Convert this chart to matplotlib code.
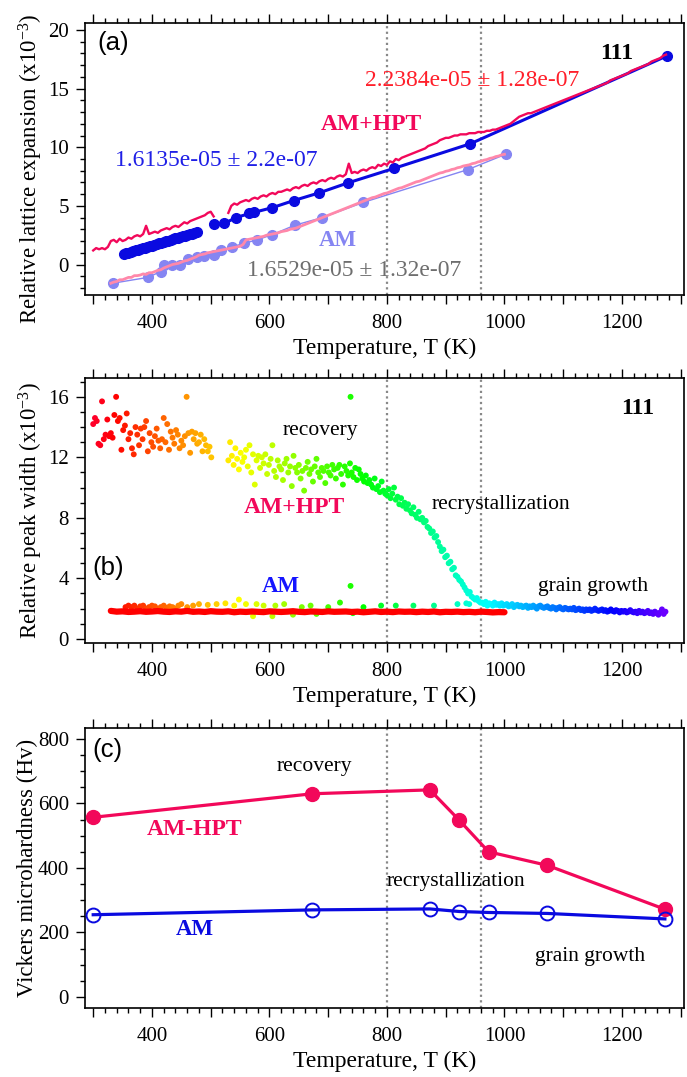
import numpy as np
import matplotlib
matplotlib.use("Agg")
import matplotlib.pyplot as plt
from matplotlib.ticker import MultipleLocator, FuncFormatter
from matplotlib import colors

plt.rcParams['font.family'] = ['Liberation Serif', 'DejaVu Serif']
plt.rcParams['mathtext.fontset'] = 'custom'
plt.rcParams['mathtext.rm'] = 'Liberation Serif'
plt.rcParams['mathtext.it'] = 'Liberation Serif:italic'
plt.rcParams['axes.unicode_minus'] = False

# ---------------- (a) relative lattice expansion (x1e-3) ----------------
# AM+HPT measured, sampled every 5 K (two pieces, gap near 510-525 K)
hpt_a1_T0 = 300
hpt_a1 = [1.2, 1.4, 1.3, 1.4, 1.3, 1.5, 2.0, 2.1, 1.9, 2.2,
          2.0, 2.1, 2.3, 2.2, 2.4, 2.5, 2.4, 2.6, 3.3, 2.6,
          2.7, 2.8, 2.7, 2.9, 3.0, 3.1, 3.0, 3.2, 3.3, 3.2,
          3.4, 3.6, 3.5, 3.7, 3.8, 3.9, 4.0, 4.1, 4.2, 4.4,
          4.5, 4.1]
hpt_a2_T0 = 530
hpt_a2 = [4.4, 5.0, 5.2, 5.1, 5.3, 5.4, 5.5, 5.4, 5.6, 5.7,
          5.6, 5.8, 5.9, 5.8, 6.0, 6.1, 6.0, 6.2, 6.2, 6.3,
          6.4, 6.3, 6.5, 6.6, 6.5, 6.7, 6.8, 6.7, 6.9, 7.0,
          6.9, 7.1, 7.2, 7.1, 7.3, 7.4, 7.3, 7.5, 7.6, 7.5,
          7.7, 8.6, 7.8, 7.9, 7.8, 8.0, 8.1, 8.0, 8.2, 8.3,
          8.2, 8.5, 8.4, 8.6, 8.5, 8.8, 8.7, 9.0, 8.9, 9.1,
          9.2, 9.3, 9.4, 9.5, 9.6, 9.7, 9.8, 9.9, 10.1, 10.2,
          10.3, 10.4, 10.6, 10.7, 10.8, 10.8, 10.9, 11.0, 11.0, 11.1,
          11.1, 11.1, 11.2, 11.2, 11.2, 11.3, 11.3, 11.3, 11.4, 11.4,
          11.5, 11.5, 11.6, 11.7, 11.8, 11.9, 12.0, 12.2, 12.4, 12.6,
          12.7, 12.8, 12.9, 12.9, 13.0, 13.1, 13.2, 13.3, 13.4, 13.5,
          13.6, 13.7, 13.8, 13.9, 14.0, 14.1, 14.2, 14.3, 14.4, 14.5,
          14.6, 14.7, 14.8, 14.9, 15.0, 15.1, 15.2, 15.3, 15.4, 15.5,
          15.7, 15.8, 15.9, 16.0, 16.1, 16.2, 16.3, 16.5, 16.6, 16.7,
          16.8, 16.9, 17.0, 17.1, 17.3, 17.4, 17.5, 17.6, 17.8, 17.9]

# AM measured, every 5 K from 330 K
am_a_T0 = 330
am_a = [-1.6, -1.5, -1.45, -1.3, -1.3, -1.2, -1.1, -1.1, -0.95, -0.95,
        -0.9, -0.8, -0.85, -0.7, -0.7, -0.6, -0.5, -0.45, -0.3, -0.2,
        -0.1, 0.0, 0.05, 0.1, 0.2, 0.3, 0.35, 0.45, 0.55, 0.65,
        0.8, 0.85, 0.9, 1.0, 1.05, 1.1, 1.15, 1.2, 1.25, 1.3,
        1.35, 1.4, 1.45, 1.5, 1.55, 1.7, 2.1, 2.15, 2.2, 2.25,
        2.3, 2.35, 2.4, 2.5, 2.55, 2.6, 2.65, 2.7, 2.8, 2.85,
        2.9, 3.0, 3.05, 3.1, 3.2, 3.3, 3.4, 3.5, 3.6, 3.7,
        3.8, 3.9, 4.0, 4.1, 4.2, 4.3, 4.4, 4.5, 4.6, 4.7,
        4.8, 4.9, 5.0, 5.1, 5.2, 5.3, 5.4, 5.5, 5.6, 5.7,
        5.75, 5.85, 5.95, 6.05, 6.1, 6.2, 6.3, 6.4, 6.5, 6.55,
        6.65, 6.75, 6.85, 6.95, 7.05, 7.1, 7.2, 7.3, 7.4, 7.5,
        7.6, 7.7, 7.8, 7.85, 7.95, 8.0, 8.1, 8.15, 8.25, 8.3,
        8.4, 8.45, 8.5, 8.6, 8.65, 8.75, 8.8, 8.9, 8.95, 9.05,
        9.1, 9.2, 9.25, 9.35, 9.4]

# AM+HPT fitted points (dark blue)
fit_hpt_T1 = [352, 356, 360, 364, 368, 372, 376, 380, 384, 388, 392, 396, 400, 404, 408, 412,
              416, 420, 424, 428, 432, 436, 440, 444, 448, 452, 456, 460, 464, 468, 472, 476]
fit_hpt_v1 = [0.90, 0.95, 1.02, 1.08, 1.12, 1.20, 1.26, 1.30, 1.38, 1.43, 1.50, 1.56, 1.62, 1.68, 1.73, 1.80,
              1.86, 1.92, 1.98, 2.04, 2.10, 2.15, 2.22, 2.28, 2.33, 2.40, 2.46, 2.52, 2.58, 2.64, 2.70, 2.78]
fit_hpt_T2 = [505, 523, 543, 566, 574, 605, 641, 684, 733, 812, 942, 1277]
fit_hpt_v2 = [3.45, 3.5, 4.0, 4.35, 4.45, 4.85, 5.45, 6.1, 6.95, 8.2, 10.3, 17.8]

# AM fitted points (light blue)
fit_am_T = [333, 393, 415, 420, 434, 448, 462, 477, 489, 505, 518, 536, 556, 579, 605, 643, 690, 760, 938, 1002]
fit_am_v = [-1.6, -1.1, -0.6, -0.05, -0.05, 0.0, 0.5, 0.6, 0.7, 0.85, 1.2, 1.5, 1.8, 2.1, 2.55, 3.35, 4.0, 5.3, 8.1, 9.4]

# ---------------- (b) relative peak width (x1e-3) ----------------
pw_s1_T0 = 300   # every 3 K
pw_s1 = [14.2, 14.6, 14.4, 12.9, 12.8, 15.7, 13.2, 13.5, 14.5, 13.4,
         13.6, 13.3, 14.8, 16.0, 14.4, 14.6, 12.5, 13.8, 14.1, 14.9,
         13.2, 13.6, 12.6, 12.2, 14.0, 13.5, 12.8, 13.9, 13.2, 14.0,
         14.4, 12.4, 13.6, 13.0, 12.7, 13.4, 13.9, 13.1, 12.6, 13.2,
         14.6, 13.0, 14.2, 12.5, 13.7, 13.3, 12.9, 13.8, 13.5, 12.6,
         13.1, 12.8, 13.4, 16.0, 13.6, 12.3, 13.7, 13.2, 13.6, 12.9,
         13.0, 13.5, 12.4, 13.2, 12.8, 12.4, 12.7, 12.0]
pw_s2_T0 = 530   # every 3 K
pw_s2 = [11.8, 13.0, 12.1, 11.5, 12.6, 11.9, 11.2, 12.3, 11.7, 12.0,
         12.5, 11.4, 12.8, 11.0, 12.2, 10.2, 11.8, 12.1, 11.3, 12.0,
         11.6, 12.2, 10.9, 11.5, 11.9, 12.8, 11.1, 10.7, 11.8, 11.4,
         11.2, 10.5, 11.6, 11.9, 11.0, 11.4, 10.1, 12.1, 11.3, 11.0,
         11.5, 10.6, 11.1, 9.8, 11.3, 11.7, 10.9, 11.2, 10.4, 11.4,
         11.9, 11.0, 10.7, 11.3, 11.1, 10.3, 11.4, 11.0, 10.8, 11.5,
         11.2, 10.6, 11.3, 11.5, 10.9, 10.2, 11.4, 11.1, 10.8, 11.6,
         11.0, 10.7, 11.3, 10.5, 11.2, 10.9, 10.6, 10.4, 10.8, 10.3,
         10.5, 10.2, 10.0, 10.6, 9.9, 10.1, 9.7, 10.4, 9.8, 9.6,
         9.5, 9.9, 9.3, 9.6, 10.0, 9.2, 9.4, 8.9, 9.3, 8.8,
         9.0, 8.6, 8.9, 8.5, 8.3, 8.7, 8.2, 8.0, 8.4, 7.9,
         8.0, 7.7, 7.8, 7.4, 7.3, 7.0, 7.1, 6.7, 6.8, 6.4,
         6.1, 5.8, 5.9, 5.4, 5.5, 5.0, 5.1, 4.6, 4.7, 4.2,
         4.1, 3.9, 3.8, 3.6, 3.4, 3.2, 3.0, 3.1, 2.8, 2.7,
         2.6, 2.7, 2.5, 2.4]
pw_s3_T0 = 962   # every 3 K
pw_s3 = [2.4, 2.3, 2.45, 2.2, 2.35, 2.3, 2.2, 2.4, 2.25, 2.3,
         2.2, 2.35, 2.2, 2.25, 2.3, 2.15, 2.2, 2.3, 2.1, 2.2,
         2.25, 2.15, 2.2, 2.1, 2.15, 2.2, 2.05, 2.15, 2.1, 2.2,
         2.1, 2.0, 2.15, 2.2, 2.1, 2.05, 2.1, 2.15, 2.05, 2.0,
         2.1, 2.05, 1.95, 2.05, 2.1, 2.0, 1.95, 2.05, 2.0, 1.95,
         2.0, 1.95, 2.05, 1.9, 1.95, 2.0, 1.9, 1.95, 1.85, 1.95,
         1.9, 1.95, 1.85, 1.9, 2.0, 1.9, 1.85, 1.9, 1.95, 1.85,
         1.9, 1.8, 1.85, 1.95, 1.85, 1.8, 1.9, 1.85, 1.75, 1.85,
         1.8, 1.85, 1.75, 1.8, 1.9, 1.8, 1.75, 1.8, 1.7, 1.85,
         1.75, 1.8, 1.7, 1.75, 1.85, 1.7, 1.75, 1.65, 1.8, 1.7,
         1.6, 1.75, 1.95, 1.65, 1.8]

# AM (b): coloured scattered points and the dense red band (every 10 K)
am_pts_T = [355, 360, 365, 370, 375, 380, 385, 390, 395, 400, 405, 410, 415, 420, 425, 430, 435, 440,
            445, 450, 460, 470, 480, 495, 510, 525, 540, 548, 560, 572, 578, 590, 605, 610, 625, 640,
            655, 670, 680, 700, 720, 738, 738, 742, 760, 790, 815, 845, 880, 920, 935, 940]
am_pts_w = [2.1, 2.2, 2.1, 2.2, 2.0, 2.15, 2.2, 2.0, 2.1, 2.2, 2.15, 2.0, 2.1, 2.2, 2.05, 2.15, 2.1, 2.0,
            2.2, 2.3, 2.1, 2.2, 2.3, 2.25, 2.3, 2.35, 2.2, 2.6, 2.3, 1.5, 2.3, 2.2, 1.5, 2.2, 2.3, 1.6,
            2.1, 2.2, 1.65, 2.1, 2.4, 3.5, 16.0, 1.7, 2.1, 2.2, 2.2, 2.2, 2.2, 2.3, 2.35, 2.3]
am_band_T0 = 330
am_band = [1.85, 1.8, 1.82, 1.78, 1.8, 1.83, 1.79, 1.81, 1.84, 1.8,
           1.78, 1.82, 1.8, 1.85, 1.79, 1.81, 1.78, 1.83, 1.8, 1.79,
           1.82, 1.76, 1.8, 1.78, 1.81, 1.79, 1.77, 1.82, 1.8, 1.78,
           1.8, 1.83, 1.79, 1.77, 1.81, 1.8, 1.78, 1.82, 1.79, 1.8,
           1.81, 1.78, 1.8, 1.76, 1.79, 1.82, 1.78, 1.8, 1.77, 1.81,
           1.79, 1.8, 1.77, 1.8, 1.78, 1.81, 1.76, 1.79, 1.78, 1.8,
           1.77, 1.79, 1.76, 1.8, 1.78, 1.75, 1.77, 1.76]

# ---------------- (c) Vickers microhardness ----------------
hv_T = [300, 673, 873, 923, 973, 1073, 1273]
hv_hpt = [557, 630, 642, 548, 450, 408, 272]
hv_am = [255, 270, 273, 265, 262, 259, 242]

phase_T = [800, 960]

HPT_C = '#f2085a'
RED_C = '#ff1f2a'
BLUE_C = '#0a0ae0'
LBLUE_C = '#8585f2'
PINK_C = '#ff88aa'
GRAY_C = '#6e6e6e'

fig = plt.figure(figsize=(6.87, 10.77), dpi=100)
ax_a = fig.add_axes([0.1237, 0.7261, 0.8719, 0.2526])
ax_b = fig.add_axes([0.1237, 0.4030, 0.8719, 0.2461])
ax_c = fig.add_axes([0.1237, 0.0641, 0.8719, 0.2600])


def style(ax, ylim, ymaj, ymin, ylabel, lx, ly=0.5):
    ax.set_xlim(286, 1305.5)
    ax.set_ylim(*ylim)
    ax.xaxis.set_major_locator(MultipleLocator(100))
    ax.xaxis.set_minor_locator(MultipleLocator(20))
    ax.xaxis.set_major_formatter(FuncFormatter(lambda v, p: '%d' % v if round(v) % 200 == 0 else ''))
    ax.yaxis.set_major_locator(MultipleLocator(ymaj))
    ax.yaxis.set_minor_locator(MultipleLocator(ymin))
    ax.tick_params(which='both', direction='out', top=True, right=False, width=1.0, labelsize=15)
    ax.tick_params(which='major', length=6.5)
    ax.tick_params(which='minor', length=3.6)
    ax.tick_params(axis='x', which='major', pad=7)
    ax.tick_params(axis='y', which='major', pad=5)
    for s in ax.spines.values():
        s.set_linewidth(1.2)
    ax.set_xlabel('Temperature, T (K)', fontsize=17, labelpad=3.5)
    ax.set_ylabel(ylabel, fontsize=16.5)
    ax.yaxis.set_label_coords(lx, ly)
    ax.vlines(phase_T, ylim[0], ylim[1], colors='#888888', linestyles=(0, (1, 1.5)), lw=1.6, zorder=0)


# ---- panel (a)
style(ax_a, (-2.6, 20.6), 5, 1, 'Relative lattice expansion (x10$^{-3}$)', -0.066, 0.465)
T1 = hpt_a1_T0 + 5 * np.arange(len(hpt_a1))
T2 = hpt_a2_T0 + 5 * np.arange(len(hpt_a2))
Tam = am_a_T0 + 5 * np.arange(len(am_a))
ax_a.plot(fit_am_T, fit_am_v, '-o', color=LBLUE_C, lw=1.0, ms=7, zorder=1)
ax_a.plot(Tam, am_a, '-', color=PINK_C, lw=2.0, zorder=2)
ax_a.plot(fit_hpt_T1, fit_hpt_v1, '-o', color=BLUE_C, lw=2.2, ms=7, zorder=3)
ax_a.plot(fit_hpt_T2, fit_hpt_v2, '-o', color=BLUE_C, lw=2.2, ms=7, zorder=3)
ax_a.plot(T1, hpt_a1, '-', color=HPT_C, lw=1.7, zorder=4)
ax_a.plot(T2, hpt_a2, '-', color=HPT_C, lw=1.7, zorder=4)

ax_a.text(307, 18.9, '(a)', family='Liberation Sans', fontsize=18.5, va='center', ha='left')
ax_a.text(1191, 18.0, '111', fontsize=17, fontweight='bold', ha='center', va='center')
ax_a.text(945, 15.7, '2.2384e-05 \u00b1 1.28e-07', color=RED_C, fontsize=17, ha='center', va='center')
ax_a.text(774, 11.9, 'AM+HPT', color=HPT_C, fontsize=17, fontweight='bold', ha='center', va='center')
ax_a.text(509, 8.9, '1.6135e-05 \u00b1 2.2e-07', color='#1f1fe6', fontsize=17, ha='center', va='center')
ax_a.text(717, 2.05, 'AM', color=LBLUE_C, fontsize=16.5, fontweight='bold', ha='center', va='center', zorder=6)
ax_a.text(744, -0.5, '1.6529e-05 \u00b1 1.32e-07', color=GRAY_C, fontsize=17, ha='center', va='center')

# ---- panel (b)
style(ax_b, (-0.27, 17.25), 4, 1, 'Relative peak width (x10$^{-3}$)', -0.066)
cmap = plt.get_cmap('gist_rainbow')
norm = colors.Normalize(300, 1450)
Ts = np.concatenate([pw_s1_T0 + 3 * np.arange(len(pw_s1)),
                     pw_s2_T0 + 3 * np.arange(len(pw_s2)),
                     pw_s3_T0 + 3 * np.arange(len(pw_s3))])
Ws = np.concatenate([pw_s1, pw_s2, pw_s3])
ax_b.scatter(am_pts_T, am_pts_w, c=cmap(norm(np.array(am_pts_T))), s=18, lw=0, zorder=2)
Tb = am_band_T0 + 10 * np.arange(len(am_band))
ax_b.plot(Tb, am_band, '-', color='#ff0000', lw=4.5, solid_capstyle='round', zorder=3)
ax_b.scatter(Ts, Ws, c=cmap(norm(Ts)), s=18, lw=0, zorder=4)

ax_b.text(1226, 15.2, '111', fontsize=17, fontweight='bold', ha='center', va='center')
ax_b.text(686, 13.8, 'recovery', fontsize=15.5, ha='center', va='center')
ax_b.text(642, 8.7, 'AM+HPT', color=HPT_C, fontsize=17, fontweight='bold', ha='center', va='center')
ax_b.text(994, 8.9, 'recrystallization', fontsize=15.5, ha='center', va='center')
ax_b.text(298, 4.7, '(b)', family='Liberation Sans', fontsize=18.5, ha='left', va='center')
ax_b.text(620, 3.45, 'AM', color='#1414ff', fontsize=16.5, fontweight='bold', ha='center', va='center')
ax_b.text(1151, 3.45, 'grain growth', fontsize=15.5, ha='center', va='center')

# ---- panel (c)
style(ax_c, (-34, 834), 200, 50, 'Vickers microhardness (Hv)', -0.079)
ax_c.plot(hv_T, hv_hpt, '-o', color=HPT_C, lw=2.3, ms=10, zorder=3)
ax_c.plot(hv_T, hv_am, '-o', color=BLUE_C, lw=2.3, ms=10, mfc='none', mew=1.4, zorder=4)
ax_c.text(298, 766, '(c)', family='Liberation Sans', fontsize=18.5, ha='left', va='center')
ax_c.text(677, 713, 'recovery', fontsize=15.5, ha='center', va='center')
ax_c.text(473, 518, 'AM-HPT', color=HPT_C, fontsize=17, fontweight='bold', ha='center', va='center')
ax_c.text(473, 208, 'AM', color=BLUE_C, fontsize=16.5, fontweight='bold', ha='center', va='center')
ax_c.text(917, 357, 'recrystallization', fontsize=15.5, ha='center', va='center', zorder=5)
ax_c.text(1146, 124, 'grain growth', fontsize=15.5, ha='center', va='center')

fig.savefig('out.png', dpi=100)
